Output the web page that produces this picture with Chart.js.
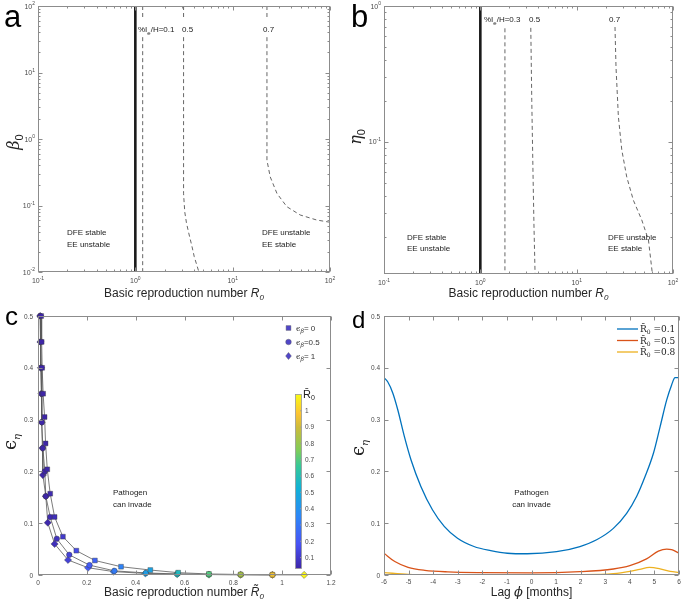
<!DOCTYPE html>
<html>
<head>
<meta charset="utf-8">
<script src="https://cdn.jsdelivr.net/npm/chart.js@4.4.1/dist/chart.umd.min.js"></script>
<style>
  body { margin: 0; background: #fff; width: 685px; height: 602px; position: relative; overflow: hidden; }
  canvas { position: absolute; }
</style>
</head>
<body>
<canvas id="ca" style="left:0;top:0" width="342" height="300"></canvas>
<canvas id="cb" style="left:342px;top:0" width="343" height="300"></canvas>
<canvas id="cc" style="left:0;top:300px" width="342" height="302"></canvas>
<canvas id="cd" style="left:342px;top:300px" width="343" height="302"></canvas>
<script>
// ---- panel a : R0 vs beta0 (log-log) ----
const aThreshR0 = [1, 1];
const aThreshBeta = [0.01, 100];
const aIe01R0 = [1.19, 1.19, 1.19, 1.19, 1.19];
const aIe01Beta = [100, 63, null, 34, 0.01];
const aIe05R0 = [3.13, 3.13, 3.13, 3.13, 3.13, 3.22, 3.35, 3.53, 3.8, 4.03, 4.5];
const aIe05Beta = [100, 63, null, 34, 0.15, 0.08, 0.055, 0.039, 0.025, 0.017, 0.01];
const aIe07R0 = [22.5, 22.5, 22.5, 22.5, 22.5, 24.3, 28.5, 36, 49.4, 73, 100];
const aIe07Beta = [100, 63, null, 34, 0.48, 0.27, 0.152, 0.096, 0.072, 0.0605, 0.056];
const aTicksX = [0.1, 1, 10, 100];
const aTicksY = [0.01, 0.1, 1, 10, 100];

// ---- panel b : R0 vs eta0 (log-log) ----
const bThreshR0 = [1, 1];
const bThreshEta = [0.0106, 1];
const bIe03R0 = [1.8, 1.8];
const bIe03Eta = [0.685, 0.0106];
const bIe05R0 = [3.34, 3.42, 3.52, 3.6, 3.7];
const bIe05Eta = [0.69, 0.2, 0.06, 0.025, 0.0106];
const bIe07R0 = [25.0, 25.6, 27.1, 29.4, 33.1, 38.8, 47.4, 55.6, 61.1];
const bIe07Eta = [0.70, 0.357, 0.153, 0.087, 0.055, 0.037, 0.0265, 0.0189, 0.0106];
const bTicksX = [0.1, 1, 10, 100];
const bTicksY = [0.1, 1];

// ---- panel c : R0 tilde vs eps_eta, three eps_beta ----
const cSqR0  = [0.013, 0.015, 0.017, 0.021, 0.027, 0.031, 0.038, 0.05, 0.068, 0.102, 0.157, 0.233, 0.34, 0.46, 0.574, 0.70, 0.83, 0.96];
const cSqEps = [0.5, 0.45, 0.4, 0.35, 0.305, 0.254, 0.204, 0.157, 0.112, 0.074, 0.047, 0.028, 0.016, 0.0096, 0.0045, 0.002, 0.001, 0.0005];
const cCiR0  = [0.009, 0.011, 0.013, 0.015, 0.016, 0.02, 0.028, 0.032, 0.05, 0.077, 0.128, 0.211, 0.313, 0.442, 0.57, 0.70, 0.83, 0.96];
const cCiEps = [0.5, 0.45, 0.4, 0.35, 0.295, 0.245, 0.2, 0.152, 0.112, 0.07, 0.039, 0.019, 0.008, 0.004, 0.002, 0.001, 0.0006, 0.0004];
const cDiR0  = [0.009, 0.010, 0.012, 0.014, 0.015, 0.018, 0.02, 0.032, 0.04, 0.068, 0.123, 0.205, 0.31, 0.44, 0.57, 0.70, 0.83, 0.96, 1.09];
const cDiEps = [0.5, 0.45, 0.4, 0.35, 0.295, 0.245, 0.193, 0.152, 0.101, 0.06, 0.029, 0.014, 0.0065, 0.003, 0.0015, 0.0008, 0.0005, 0.0003, 0.0002];
const cEpsBeta = ['0', '0.5', '1'];
const cTicksX = [0, 0.2, 0.4, 0.6, 0.8, 1, 1.2];
const cTicksY = [0, 0.1, 0.2, 0.3, 0.4, 0.5];
const cbTicks = [0.1, 0.2, 0.3, 0.4, 0.5, 0.6, 0.7, 0.8, 0.9, 1];
const cbMin = 0.033, cbMax = 1.1;

// ---- panel d : lag vs eps_eta ----
const dLag01 = [-6, -5.85, -5.64, -5.44, -5.17, -4.9, -4.5, -4.03, -3.55, -3.01, -2.34, -1.66, -0.98, -0.17, 1.02, 1.97, 2.65, 3.33, 3.87, 4.28, 4.62, 4.96, 5.23, 5.5, 5.7, 5.84, 6];
const dEps01 = [0.381, 0.373, 0.351, 0.319, 0.267, 0.222, 0.171, 0.126, 0.094, 0.071, 0.055, 0.047, 0.042, 0.041, 0.045, 0.055, 0.068, 0.09, 0.119, 0.152, 0.19, 0.235, 0.286, 0.338, 0.367, 0.381, 0.381];
const dLag05 = [-6, -5.56, -5.02, -4.34, -3.4, -2.04, 0, 1.97, 3.33, 4.0, 4.68, 5.16, 5.5, 5.7, 6];
const dEps05 = [0.042, 0.026, 0.0148, 0.009, 0.006, 0.0045, 0.004, 0.0064, 0.0116, 0.018, 0.031, 0.046, 0.05, 0.049, 0.042];
const dLag08 = [-6, -5, -4, -2, 0, 2, 3.33, 4.0, 4.4, 4.8, 5.23, 5.64, 6];
const dEps08 = [0.0045, 0.0013, 0.0006, 0.0005, 0.0005, 0.0007, 0.0026, 0.007, 0.011, 0.0148, 0.012, 0.007, 0.005];
const dR0bar = ['0.1', '0.5', '0.8'];
const dTicksX = [-6, -5, -4, -3, -2, -1, 0, 1, 2, 3, 4, 5, 6];
const dTicksY = [0, 0.1, 0.2, 0.3, 0.4, 0.5];

const SANS = '"Liberation Sans", Arial, sans-serif';
const SERIF = '"DejaVu Serif", "Liberation Serif", serif';
// parula-like colormap
const parulaStops = ['#3e26a8', '#4852f4', '#2d87f7', '#11b1d6', '#37c897', '#80cc59', '#ccbb3b', '#fcc332', '#f9fb15'];
const parulaPos = [0, 0.14, 0.30, 0.46, 0.59, 0.68, 0.81, 0.89, 1];

function hexRgb(h) { return [1, 3, 5].map(i => parseInt(h.substr(i, 2), 16)); }
function parula(v) {
  let f = (v - cbMin) / (cbMax - cbMin);
  f = Math.max(0, Math.min(1, f));
  let i = 0;
  while (i < parulaPos.length - 2 && f > parulaPos[i + 1]) i++;
  const t = (f - parulaPos[i]) / (parulaPos[i + 1] - parulaPos[i]);
  const p = hexRgb(parulaStops[i]), q = hexRgb(parulaStops[i + 1]);
  return 'rgb(' + p.map((c, k) => Math.round(c + (q[k] - c) * t)).join(',') + ')';
}

// text made of pieces (for sub/superscripts)
function rich(ctx, x, y, parts, align, rot, color) {
  ctx.save();
  ctx.translate(x, y);
  if (rot) ctx.rotate(rot);
  ctx.textAlign = 'left';
  ctx.textBaseline = 'alphabetic';
  ctx.fillStyle = color || '#222';
  let w = 0;
  parts.forEach(p => { ctx.font = p.f; p.w = ctx.measureText(p.t).width; w += p.w; });
  let cx = align === 'center' ? -w / 2 : align === 'right' ? -w : 0;
  parts.forEach(p => { ctx.font = p.f; ctx.fillText(p.t, cx, p.dy || 0); cx += p.w; });
  ctx.restore();
}

function tickParts(v, fmt, size) {
  if (fmt === 'pow') {
    const e = Math.round(Math.log10(v));
    return [{ t: '10', f: size + 'px ' + SANS }, { t: String(e), f: (size - 2) + 'px ' + SANS, dy: -3.5 }];
  }
  return [{ t: String(v), f: size + 'px ' + SANS }];
}

function logMinor(majors) {
  const out = [];
  for (let i = 0; i < majors.length - 1; i++) for (let k = 2; k <= 9; k++) out.push(majors[i] * k);
  return out;
}

// MATLAB-like box, inward ticks, tick labels and free texts
function axesPlugin(cfg) {
  return {
    id: 'axes_' + cfg.id,
    afterDatasetsDraw(chart) {
      const ctx = chart.ctx, a = chart.chartArea, sx = chart.scales.x, sy = chart.scales.y;
      ctx.save();
      ctx.strokeStyle = '#8c8c8c';
      ctx.lineWidth = 1;
      const L = Math.round(a.left) + 0.5, R = Math.round(a.right) - 0.5;
      const T = Math.round(a.top) + 0.5, B = Math.round(a.bottom) - 0.5;
      ctx.strokeRect(L, T, R - L, B - T);
      const seg = (x1, y1, x2, y2) => { ctx.beginPath(); ctx.moveTo(x1, y1); ctx.lineTo(x2, y2); ctx.stroke(); };
      const tx = (list, len) => list.forEach(v => {
        const p = Math.round(sx.getPixelForValue(v)) + 0.5;
        seg(p, B, p, B - len); seg(p, T, p, T + len);
      });
      const ty = (list, len) => list.forEach(v => {
        const p = Math.round(sy.getPixelForValue(v)) + 0.5;
        seg(L, p, L + len, p); seg(R, p, R - len, p);
      });
      tx(cfg.xTicks, 4); tx(cfg.xMinor || [], 2);
      ty(cfg.yTicks, 4); ty(cfg.yMinor || [], 2);
      cfg.xTicks.forEach(v => rich(ctx, sx.getPixelForValue(v), a.bottom + cfg.xLab, tickParts(v, cfg.fmt, cfg.fs), 'center', 0, '#4a4a4a'));
      cfg.yTicks.forEach(v => rich(ctx, a.left - cfg.yLab, sy.getPixelForValue(v) + 2.5, tickParts(v, cfg.fmt, cfg.fs), 'right', 0, '#4a4a4a'));
      ctx.translate(-cfg.ox, -cfg.oy);
      cfg.texts.forEach(t => rich(ctx, t.x, t.y, t.parts, t.align, t.rot, t.c));
      if (cfg.extra) cfg.extra(ctx, chart);
      ctx.restore();
    }
  };
}

function ds(xs, ys, style) {
  return Object.assign({
    data: xs.map((x, i) => ({ x: x, y: ys[i] })),
    pointRadius: 0, fill: false, spanGaps: false, tension: 0,
    borderColor: '#555', borderWidth: 0.9, borderDash: [4, 3]
  }, style || {});
}

function opts(padding, x, y) {
  return {
    responsive: false, animation: false, events: [],
    layout: { padding: padding },
    plugins: { legend: { display: false }, tooltip: { enabled: false } },
    scales: {
      x: Object.assign({ display: false }, x),
      y: Object.assign({ display: false }, y)
    }
  };
}

const solid = { borderColor: '#1a1a1a', borderWidth: 2.6, borderDash: [] };
const f8 = '8px ' + SANS, f6 = '6px ' + SANS;
const xTitle = (x, y, extra) => ({ x: x, y: y, align: 'center', c: '#262626',
  parts: [{ t: 'Basic reproduction number ', f: '12px ' + SANS }].concat(extra) });

// ---------- a ----------
new Chart(document.getElementById('ca'), {
  type: 'line',
  data: { datasets: [
    ds(aThreshR0, aThreshBeta, solid),
    ds(aIe01R0, aIe01Beta),
    ds(aIe05R0, aIe05Beta),
    ds(aIe07R0, aIe07Beta)
  ] },
  options: opts({ left: 38, top: 6, right: 12, bottom: 28 },
    { type: 'logarithmic', min: 0.1, max: 100 }, { type: 'logarithmic', min: 0.01, max: 100 }),
  plugins: [axesPlugin({
    id: 'a', ox: 0, oy: 0, fmt: 'pow', fs: 7, xLab: 11, yLab: 3,
    xTicks: aTicksX, xMinor: logMinor(aTicksX), yTicks: aTicksY, yMinor: logMinor(aTicksY),
    texts: [
      { x: 4, y: 27, parts: [{ t: 'a', f: '31px ' + SANS }], c: '#000' },
      { x: 19, y: 142, rot: -Math.PI / 2, align: 'center', parts: [{ t: 'β', f: 'italic 16px ' + SERIF }, { t: '0', f: '11px ' + SANS, dy: 4 }] },
      xTitle(184, 297, [{ t: 'R', f: 'italic 12px ' + SANS }, { t: '0', f: 'italic 8px ' + SANS, dy: 3 }]),
      { x: 138, y: 31.5, parts: [{ t: '%I', f: f8 }, { t: 'e', f: f6, dy: 3 }, { t: '/H=0.1', f: f8 }] },
      { x: 182, y: 31.5, parts: [{ t: '0.5', f: f8 }] },
      { x: 263, y: 31.5, parts: [{ t: '0.7', f: f8 }] },
      { x: 67, y: 234.5, parts: [{ t: 'DFE stable', f: f8 }] },
      { x: 67, y: 247, parts: [{ t: 'EE unstable', f: f8 }] },
      { x: 262, y: 234.5, parts: [{ t: 'DFE unstable', f: f8 }] },
      { x: 262, y: 247, parts: [{ t: 'EE stable', f: f8 }] }
    ]
  })]
});

// ---------- b ----------
new Chart(document.getElementById('cb'), {
  type: 'line',
  data: { datasets: [
    ds(bThreshR0, bThreshEta, solid),
    ds(bIe03R0, bIe03Eta),
    ds(bIe05R0, bIe05Eta),
    ds(bIe07R0, bIe07Eta)
  ] },
  options: opts({ left: 42, top: 6, right: 12, bottom: 26 },
    { type: 'logarithmic', min: 0.1, max: 100 }, { type: 'logarithmic', min: 0.0106, max: 1 }),
  plugins: [axesPlugin({
    id: 'b', ox: 342, oy: 0, fmt: 'pow', fs: 7, xLab: 11, yLab: 3,
    xTicks: bTicksX, xMinor: logMinor(bTicksX), yTicks: bTicksY, yMinor: logMinor([0.01, 0.1, 1]).filter(v => v > 0.0106),
    texts: [
      { x: 351, y: 27, parts: [{ t: 'b', f: '31px ' + SANS }], c: '#000' },
      { x: 361, y: 137, rot: -Math.PI / 2, align: 'center', parts: [{ t: 'η', f: 'italic 16px ' + SERIF }, { t: '0', f: '11px ' + SANS, dy: 4 }] },
      xTitle(528.5, 297, [{ t: 'R', f: 'italic 12px ' + SANS }, { t: '0', f: 'italic 8px ' + SANS, dy: 3 }]),
      { x: 484, y: 21.5, parts: [{ t: '%I', f: f8 }, { t: 'e', f: f6, dy: 3 }, { t: '/H=0.3', f: f8 }] },
      { x: 529, y: 21.5, parts: [{ t: '0.5', f: f8 }] },
      { x: 609, y: 21.5, parts: [{ t: '0.7', f: f8 }] },
      { x: 407, y: 240, parts: [{ t: 'DFE stable', f: f8 }] },
      { x: 407, y: 251, parts: [{ t: 'EE unstable', f: f8 }] },
      { x: 608, y: 240, parts: [{ t: 'DFE unstable', f: f8 }] },
      { x: 608, y: 251, parts: [{ t: 'EE stable', f: f8 }] }
    ]
  })]
});

// ---------- c ----------
const cSeries = [
  { x: cSqR0, y: cSqEps, style: 'rect', r: 3.4 },
  { x: cCiR0, y: cCiEps, style: 'circle', r: 2.8 },
  { x: cDiR0, y: cDiEps, style: 'rectRot', r: 3.6 }
];

function drawMarker(ctx, style, x, y, r) {
  ctx.beginPath();
  if (style === 'rect') { const s = r * Math.SQRT1_2; ctx.rect(x - s, y - s, 2 * s, 2 * s); }
  else if (style === 'circle') ctx.arc(x, y, r, 0, Math.PI * 2);
  else { ctx.moveTo(x, y - r); ctx.lineTo(x + r * 0.8, y); ctx.lineTo(x, y + r); ctx.lineTo(x - r * 0.8, y); ctx.closePath(); }
  ctx.fill(); ctx.stroke();
}

function colorbarExtra(ctx) {
  // coordinates in page pixels (ctx already shifted by canvas offset)
  const x0 = 295.5, x1 = 301.5, top = 394.5, bot = 568.5;
  const g = ctx.createLinearGradient(0, bot, 0, top);
  parulaStops.forEach((c, i) => g.addColorStop(parulaPos[i], c));
  ctx.fillStyle = g;
  ctx.fillRect(x0, top, x1 - x0, bot - top);
  ctx.strokeStyle = '#9a9a9a'; ctx.lineWidth = 0.8;
  ctx.strokeRect(x0, top, x1 - x0, bot - top);
  cbTicks.forEach(v => {
    const py = bot - (v - cbMin) / (cbMax - cbMin) * (bot - top);
    ctx.beginPath(); ctx.moveTo(x1, py); ctx.lineTo(x1 - 1.5, py); ctx.stroke();
    rich(ctx, 305, py + 2.3, [{ t: String(v), f: '6.5px ' + SANS }], 'left', 0, '#4a4a4a');
  });
  rich(ctx, 303, 398, [{ t: 'R\u0304', f: '11px ' + SANS }, { t: '0', f: '7px ' + SANS, dy: 2 }], 'left', 0, '#222');
  // legend of the three markers
  const ly = [328, 342, 356];
  cSeries.forEach((s, i) => {
    ctx.fillStyle = '#5046c8'; ctx.strokeStyle = '#555'; ctx.lineWidth = 0.4;
    drawMarker(ctx, s.style, 288.5, ly[i], s.r);
    const val = cEpsBeta[i];
    rich(ctx, 296, ly[i] + 2.5, [{ t: 'ϵ', f: '8px ' + SERIF }, { t: 'β', f: 'italic 6px ' + SERIF, dy: 2.5 },
      { t: val.length > 1 ? '=' + val : '= ' + val, f: '8px ' + SANS }], 'left', 0, '#333');
  });
}

new Chart(document.getElementById('cc'), {
  type: 'line',
  data: { datasets: cSeries.map(s => ({
    data: s.x.map((v, i) => ({ x: v, y: s.y[i] })),
    borderColor: '#5a5a5a', borderWidth: 0.8, tension: 0, fill: false, clip: false,
    pointStyle: s.style, pointRadius: s.r,
    pointBackgroundColor: s.x.map(parula), pointBorderColor: '#3a3a3a', pointBorderWidth: 0.4
  })) },
  options: opts({ left: 38, top: 16, right: 11, bottom: 27 },
    { type: 'linear', min: 0, max: 1.2 }, { type: 'linear', min: 0, max: 0.5 }),
  plugins: [axesPlugin({
    id: 'c', ox: 0, oy: 300, fmt: 'num', fs: 6.5, xLab: 10, yLab: 5,
    xTicks: cTicksX, yTicks: cTicksY,
    texts: [
      { x: 5, y: 325, parts: [{ t: 'c', f: '26px ' + SANS }], c: '#000' },
      { x: 16, y: 442, rot: -Math.PI / 2, align: 'center', parts: [{ t: 'ϵ', f: '18px ' + SERIF }, { t: 'η', f: 'italic 10px ' + SERIF, dy: 4 }] },
      xTitle(184, 596, [{ t: 'R\u0303', f: 'italic 12px ' + SANS }, { t: '0', f: 'italic 8px ' + SANS, dy: 3 }]),
      { x: 113, y: 495, parts: [{ t: 'Pathogen', f: f8 }] },
      { x: 113, y: 506.5, parts: [{ t: 'can invade', f: f8 }] }
    ],
    extra: colorbarExtra
  })]
});

// ---------- d ----------
const dColors = ['#0072BD', '#D95319', '#EDB120'];
const dSeries = [[dLag01, dEps01], [dLag05, dEps05], [dLag08, dEps08]];

function legendD(ctx) {
  const ly = [329, 340.5, 352];
  dColors.forEach((c, i) => {
    ctx.strokeStyle = c; ctx.lineWidth = 1.3;
    ctx.beginPath(); ctx.moveTo(617, ly[i]); ctx.lineTo(638, ly[i]); ctx.stroke();
    rich(ctx, 640, ly[i] + 3, [{ t: 'R\u0304', f: '9px ' + SERIF }, { t: '0', f: '6px ' + SERIF, dy: 2 },
      { t: ' =' + dR0bar[i], f: '9px ' + SERIF }], 'left', 0, '#222');
  });
}

new Chart(document.getElementById('cd'), {
  type: 'line',
  data: { datasets: dSeries.map((s, k) => ({
    data: s[0].map((v, i) => ({ x: v, y: s[1][i] })),
    borderColor: dColors[k], borderWidth: 1.3, pointRadius: 0, fill: false,
    cubicInterpolationMode: 'monotone'
  })) },
  options: opts({ left: 42, top: 16, right: 6, bottom: 27 },
    { type: 'linear', min: -6, max: 6 }, { type: 'linear', min: 0, max: 0.5 }),
  plugins: [axesPlugin({
    id: 'd', ox: 342, oy: 300, fmt: 'num', fs: 6.5, xLab: 9, yLab: 4,
    xTicks: dTicksX, yTicks: dTicksY,
    texts: [
      { x: 352, y: 328, parts: [{ t: 'd', f: '24px ' + SANS }], c: '#000' },
      { x: 364, y: 448, rot: -Math.PI / 2, align: 'center', parts: [{ t: 'ϵ', f: '18px ' + SERIF }, { t: 'η', f: 'italic 10px ' + SERIF, dy: 4 }] },
      { x: 531.5, y: 596, align: 'center', c: '#262626', parts: [{ t: 'Lag ', f: '12px ' + SANS }, { t: 'ϕ', f: 'italic 13px ' + SERIF }, { t: ' [months]', f: '12px ' + SANS }] },
      { x: 531.5, y: 495, align: 'center', parts: [{ t: 'Pathogen', f: f8 }] },
      { x: 531.5, y: 506.5, align: 'center', parts: [{ t: 'can invade', f: f8 }] }
    ],
    extra: legendD
  })]
});
</script>
</body>
</html>
